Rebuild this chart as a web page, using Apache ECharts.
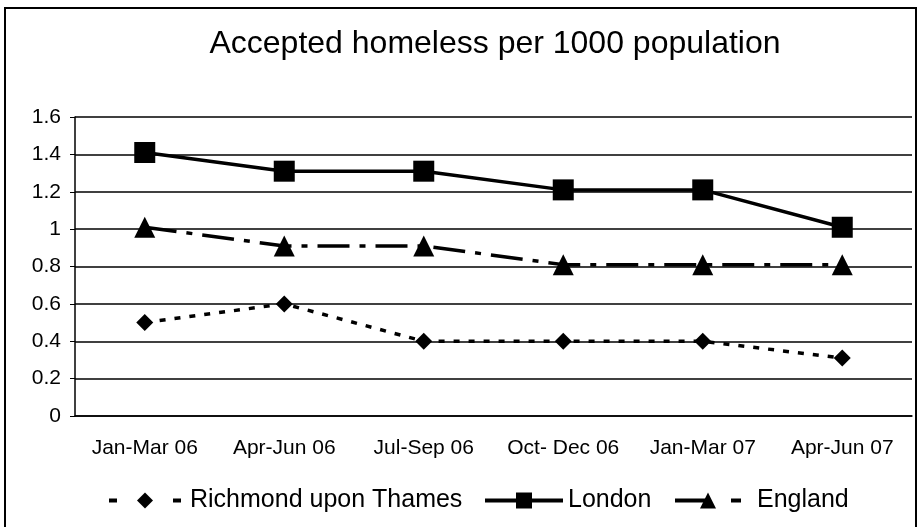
<!DOCTYPE html>
<html>
<head>
<meta charset="utf-8">
<script src="https://cdn.jsdelivr.net/npm/echarts@6/dist/echarts.min.js"></script>
<style>
  html, body { margin: 0; padding: 0; background: #fff; }
  #chart { width: 919px; height: 527px; }
</style>
</head>
<body>
<div id="chart"></div>
<script>
// Data
const quarters = ["Jan-Mar 06", "Apr-Jun 06", "Jul-Sep 06", "Oct- Dec 06", "Jan-Mar 07", "Apr-Jun 07"];
const richmond = [0.5, 0.6, 0.4, 0.4, 0.4, 0.31];
const london = [1.41, 1.31, 1.31, 1.21, 1.21, 1.01];
const england = [1.01, 0.91, 0.91, 0.81, 0.81, 0.81];

const chart = echarts.init(document.getElementById("chart"));
const font = "Liberation Sans, Arial, sans-serif";

// one legend block per series so each sits where the original has it
const legendText = { fontFamily: font, fontSize: 25, color: "#000" };
function legendAt(left, name, width, lineStyle, pad) {
  return {
    bottom: 9,
    left: left,
    itemWidth: width,
    itemHeight: 20,
    textStyle: Object.assign({ padding: [0, 0, 0, pad] }, legendText),
    data: [{ name: name, lineStyle: lineStyle }],
  };
}

chart.setOption({
  animation: false,
  backgroundColor: "#fff",
  graphic: [
    {
      type: "rect",
      shape: { x: 5, y: 8, width: 911, height: 522 },
      style: { fill: "none", stroke: "#000", lineWidth: 2 },
      silent: true,
    },
  ],
  title: {
    text: "Accepted homeless per 1000 population",
    left: 490,
    textAlign: "center",
    top: 23,
    textStyle: { fontFamily: font, fontSize: 32, fontWeight: "normal", color: "#000" },
  },
  legend: [
    legendAt(102, "Richmond upon Thames", 72, { type: [8, 56], width: 4 }, 4),
    legendAt(478, "London", 78, { width: 4 }, 0),
    legendAt(668, "England", 66, { type: [32, 24, 10, 20], width: 4 }, 11),
  ],
  grid: { left: 75, right: 7, top: 117, bottom: 111 },
  xAxis: {
    type: "category",
    data: quarters,
    boundaryGap: true,
    axisLine: { lineStyle: { color: "#000", width: 1.5 } },
    axisTick: { length: 6, lineStyle: { color: "#000" } },
    axisLabel: { interval: 0, fontFamily: font, fontSize: 21, color: "#000", margin: 22 },
  },
  yAxis: {
    type: "value",
    min: 0,
    max: 1.6,
    interval: 0.2,
    axisLine: { show: true, lineStyle: { color: "#000", width: 1.5 } },
    axisTick: { show: true, length: 5, lineStyle: { color: "#000" } },
    axisLabel: {
      fontFamily: font,
      fontSize: 21,
      color: "#000",
      margin: 14,
      formatter: (v) => String(Math.round(v * 10) / 10),
    },
    splitLine: { lineStyle: { color: "#000", width: 1.5 } },
  },
  series: [
    {
      name: "Richmond upon Thames",
      type: "line",
      data: richmond,
      symbol: "diamond",
      symbolSize: 17,
      itemStyle: { color: "#000" },
      lineStyle: { color: "#000", width: 3.5, type: [6, 9] },
    },
    {
      name: "London",
      type: "line",
      data: london,
      symbol: "rect",
      symbolSize: 21,
      itemStyle: { color: "#000" },
      lineStyle: { color: "#000", width: 3.5 },
    },
    {
      name: "England",
      type: "line",
      data: england,
      symbol: "triangle",
      symbolSize: 21,
      itemStyle: { color: "#000" },
      lineStyle: { color: "#000", width: 3.5, type: [32, 10, 6, 10] },
    },
  ],
});
</script>
</body>
</html>
